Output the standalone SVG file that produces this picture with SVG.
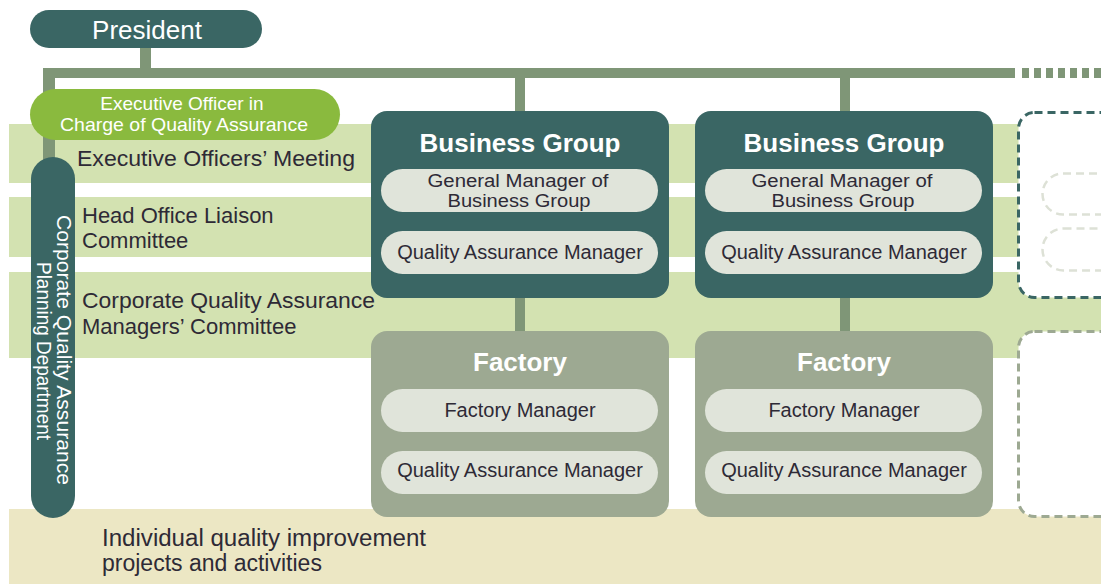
<svg xmlns="http://www.w3.org/2000/svg" width="1101" height="584" viewBox="0 0 1101 584">
<style>
.band{fill:#d3e2b1}
.beige{fill:#ece7c4}
.teal{fill:#3a6664}
.fac{fill:#9da992}
.pill{fill:#e0e4da}
.conn{fill:#7f9677}
.lbl{font-family:"Liberation Sans",Arial,sans-serif;font-size:22px;fill:#2e2a36}
.ptxt{font-family:"Liberation Sans",Arial,sans-serif;font-size:20px;fill:#2e2a36;text-anchor:middle}
.gm{font-size:17.5px}
.title{font-family:"Liberation Sans",Arial,sans-serif;font-size:26px;font-weight:bold;fill:#ffffff;text-anchor:middle}
.wtxt{font-family:"Liberation Sans",Arial,sans-serif;fill:#ffffff;text-anchor:middle}
</style>
<rect width="1101" height="584" fill="#ffffff"/>
<!-- bands -->
<g id="bands">
<rect class="band" x="9" y="124" width="1092" height="59"/>
<rect class="band" x="9" y="197" width="1092" height="60"/>
<rect class="band" x="9" y="272" width="1092" height="86"/>
<rect class="beige" x="9" y="509" width="1092" height="75"/>
</g>
<!-- connectors -->
<g id="connectors">
<rect class="conn" x="140" y="47" width="11" height="23"/>
<rect class="conn" x="43" y="68" width="972" height="10"/>
<rect class="conn" x="43" y="68" width="12" height="95"/>
<line x1="1022" y1="73" x2="1101" y2="73" stroke="#7f9677" stroke-width="10" stroke-dasharray="7,5"/>
<rect class="conn" x="515" y="76" width="10" height="37"/>
<rect class="conn" x="840" y="76" width="10" height="37"/>
<rect class="conn" x="515" y="296" width="10" height="37"/>
<rect class="conn" x="840" y="296" width="10" height="37"/>
</g>
<!-- band labels -->
<g id="labels">
<text class="lbl" x="77" y="166" textLength="278" lengthAdjust="spacingAndGlyphs">Executive Officers’ Meeting</text>
<text class="lbl" x="82" y="223">Head Office Liaison</text>
<text class="lbl" x="82" y="248">Committee</text>
<text class="lbl" x="82" y="308" textLength="293" lengthAdjust="spacingAndGlyphs">Corporate Quality Assurance</text>
<text class="lbl" x="82" y="334">Managers’ Committee</text>
<text class="lbl" x="102" y="546" style="font-size:23px" textLength="324" lengthAdjust="spacingAndGlyphs">Individual quality improvement</text>
<text class="lbl" x="102" y="571" style="font-size:23px">projects and activities</text>
</g>
<!-- President -->
<g id="president">
<rect class="teal" x="30" y="10" width="232" height="38" rx="19"/>
<text class="wtxt" x="147" y="39" style="font-size:26px">President</text>
</g>
<!-- Executive officer -->
<g id="exec-officer">
<rect x="30" y="89" width="310" height="51" rx="25.5" fill="#8aba3e"/>
<text class="wtxt" x="182" y="110" style="font-size:19px">Executive Officer in</text>
<text class="wtxt" x="184" y="131" style="font-size:19px" textLength="248" lengthAdjust="spacingAndGlyphs">Charge of Quality Assurance</text>
</g>
<!-- Corporate QA Planning Department -->
<g id="qa-planning-dept">
<rect class="teal" x="31" y="157" width="44" height="361" rx="22"/>
<text class="wtxt" transform="translate(57,350) rotate(90)" style="font-size:21px" textLength="270" lengthAdjust="spacingAndGlyphs">Corporate Quality Assurance</text>
<text class="wtxt" transform="translate(37,351) rotate(90)" style="font-size:21px" textLength="178" lengthAdjust="spacingAndGlyphs">Planning Department</text>
</g>
<!-- Business Group 1 -->
<g id="business-group-1">
<rect class="teal" x="371" y="111" width="298" height="187" rx="16"/>
<text class="title" x="520" y="152">Business Group</text>
<rect class="pill" x="381" y="169" width="277" height="43" rx="21.5"/>
<text class="ptxt gm" x="518" y="186.5" textLength="181" lengthAdjust="spacingAndGlyphs">General Manager of</text>
<text class="ptxt gm" x="519" y="206.5" textLength="143" lengthAdjust="spacingAndGlyphs">Business Group</text>
<rect class="pill" x="381" y="231" width="277" height="43" rx="21.5"/>
<text class="ptxt" x="520" y="259">Quality Assurance Manager</text>
</g>
<!-- Business Group 2 -->
<g id="business-group-2">
<rect class="teal" x="695" y="111" width="298" height="187" rx="16"/>
<text class="title" x="844" y="152">Business Group</text>
<rect class="pill" x="705" y="169" width="277" height="43" rx="21.5"/>
<text class="ptxt gm" x="842" y="186.5" textLength="181" lengthAdjust="spacingAndGlyphs">General Manager of</text>
<text class="ptxt gm" x="843" y="206.5" textLength="143" lengthAdjust="spacingAndGlyphs">Business Group</text>
<rect class="pill" x="705" y="231" width="277" height="43" rx="21.5"/>
<text class="ptxt" x="844" y="259">Quality Assurance Manager</text>
</g>
<!-- Factory 1 -->
<g id="factory-1">
<rect class="fac" x="371" y="331" width="298" height="186" rx="16"/>
<text class="title" x="520" y="371">Factory</text>
<rect class="pill" x="381" y="389" width="277" height="43" rx="21.5"/>
<text class="ptxt" x="520" y="417">Factory Manager</text>
<rect class="pill" x="381" y="451" width="277" height="43" rx="21.5"/>
<text class="ptxt" x="520" y="477">Quality Assurance Manager</text>
</g>
<!-- Factory 2 -->
<g id="factory-2">
<rect class="fac" x="695" y="331" width="298" height="186" rx="16"/>
<text class="title" x="844" y="371">Factory</text>
<rect class="pill" x="705" y="389" width="277" height="43" rx="21.5"/>
<text class="ptxt" x="844" y="417">Factory Manager</text>
<rect class="pill" x="705" y="451" width="277" height="43" rx="21.5"/>
<text class="ptxt" x="844" y="477">Quality Assurance Manager</text>
</g>
<!-- Placeholder dashed boxes -->
<g id="more-business-groups">
<rect x="1018.5" y="112.5" width="120" height="185" rx="16" fill="#ffffff" stroke="#3a6664" stroke-width="3" stroke-dasharray="8,5"/>
<rect x="1042.5" y="173.5" width="120" height="41" rx="20.5" fill="none" stroke="#dde1d6" stroke-width="2.5" stroke-dasharray="8,5"/>
<rect x="1042.5" y="228.5" width="120" height="42" rx="21" fill="none" stroke="#dde1d6" stroke-width="2.5" stroke-dasharray="8,5"/>
</g>
<g id="more-factories">
<rect x="1018.5" y="331.5" width="120" height="185" rx="16" fill="#ffffff" stroke="#9da992" stroke-width="3" stroke-dasharray="8,5"/>
</g>
</svg>
